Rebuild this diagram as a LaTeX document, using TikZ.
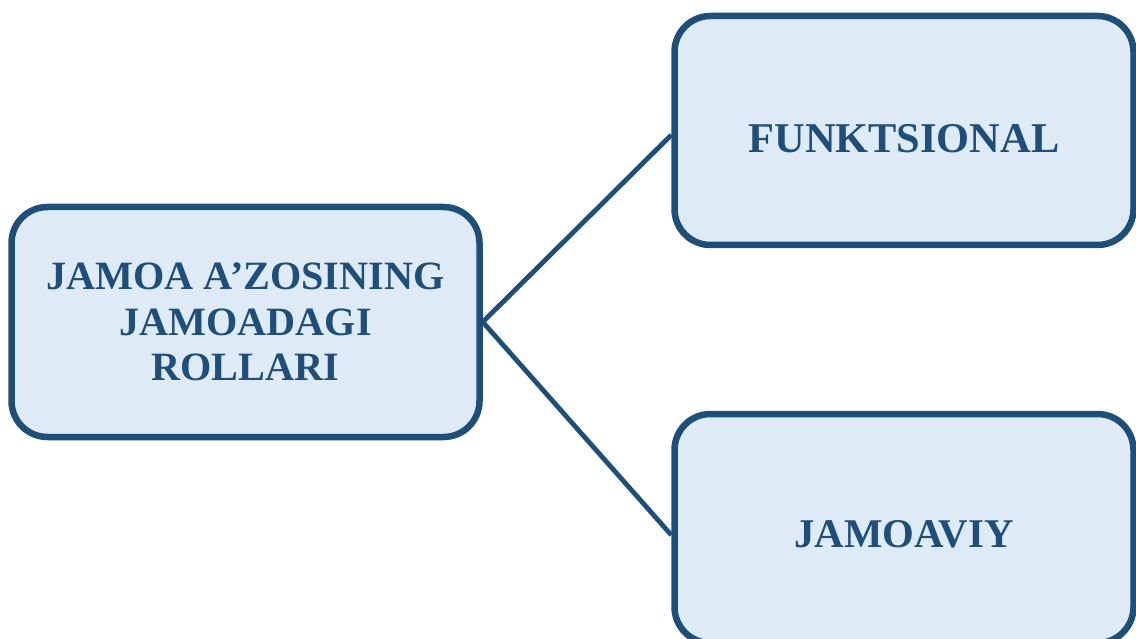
\documentclass[tikz,border=0pt]{standalone}
\usepackage{fontspec}
\setmainfont{Liberation Serif}
\definecolor{edge}{HTML}{1F4E79}
\definecolor{pane}{HTML}{DEEAF6}
\begin{document}
\begin{tikzpicture}[x=1pt,y=-1pt,
  rolebox/.style={draw=edge, fill=pane, line width=6.5pt, rounded corners=36pt,
    text=edge, align=center, inner sep=0pt,
    font=\bfseries\fontsize{40.2}{45.5}\selectfont},
  link/.style={draw=edge, line width=4.8pt}]
\useasboundingbox (0,0) rectangle (1136,639);
% central box
\node[rolebox, minimum width=468pt, minimum height=230pt] (role) at (245.5,322)
  {JAMOA A’ZOSINING\\JAMOADAGI\\ROLLARI};
% the two kinds of role
\node[rolebox, minimum width=459pt, minimum height=229pt,
  font=\bfseries\fontsize{42.4}{48}\selectfont, text height=44pt, text depth=0pt]
  (func) at (904,130.5) {FUNKTSIONAL};
\node[rolebox, minimum width=459pt, minimum height=229pt,
  font=\bfseries\fontsize{40.8}{46}\selectfont, text height=37.5pt, text depth=0pt]
  (team) at (904,528.5) {JAMOAVIY};
% connectors
\draw[link] (role.east) -- ([yshift=-4.5pt]func.west);
\draw[link] (role.east) -- ([yshift=-6.5pt]team.west);
\end{tikzpicture}
\end{document}
